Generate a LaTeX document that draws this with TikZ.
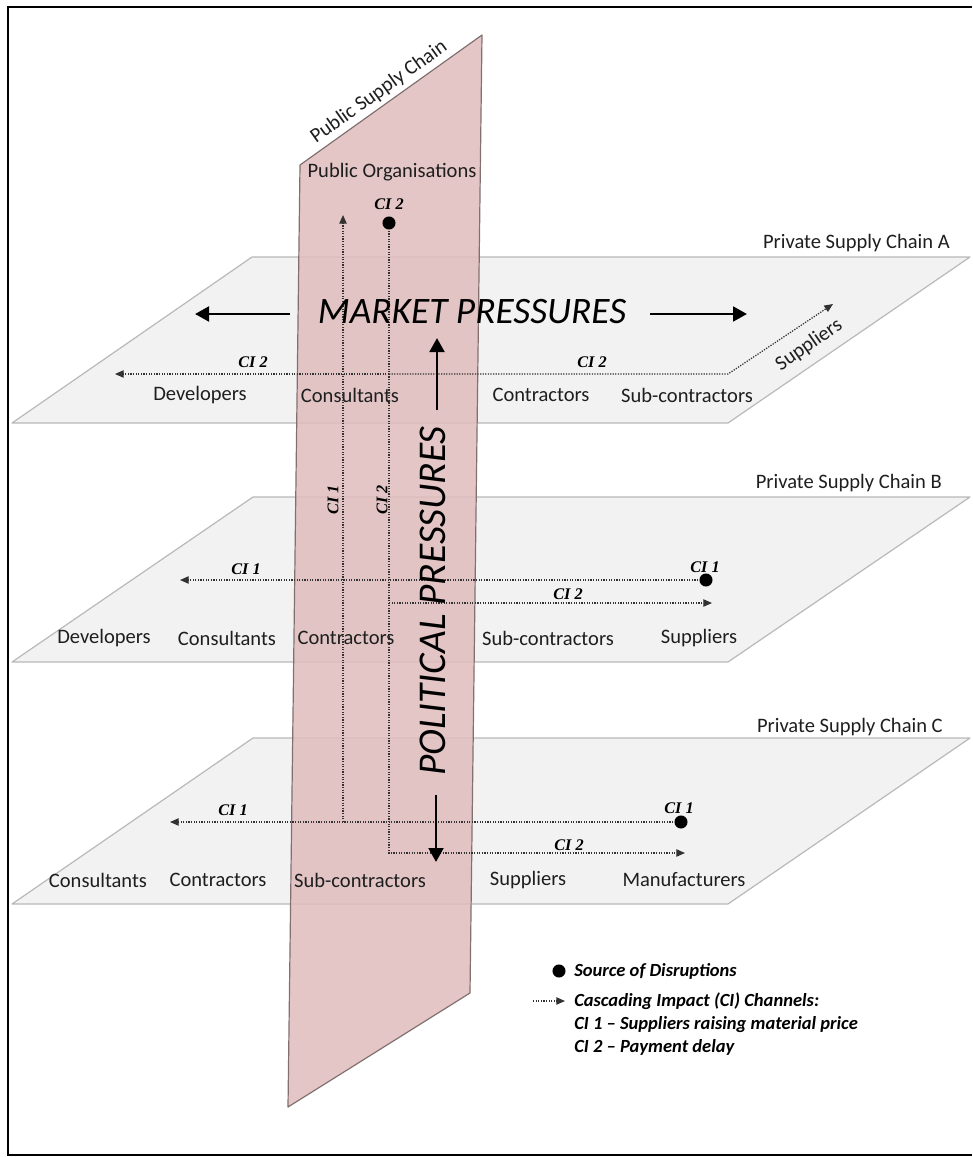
\documentclass[tikz,border=0pt]{standalone}
\usepackage{fontspec}
\setmainfont{Carlito}
\newfontfamily\cifont{Liberation Serif}
\usetikzlibrary{arrows.meta}

\definecolor{planefill}{RGB}{242,242,242}
\definecolor{planeedge}{RGB}{185,185,185}
\definecolor{pubfill}{RGB}{224,190,190}
\definecolor{pubedge}{RGB}{130,112,112}
\definecolor{labelgray}{RGB}{30,30,30}
\definecolor{flowgray}{RGB}{50,50,50}

\begin{document}
\begin{tikzpicture}[x=0.75pt,y=-0.75pt,
  plane/.style={fill=planefill,draw=planeedge,line width=0.9pt,line join=round},
  pubplane/.style={fill=pubfill,fill opacity=0.88,draw=pubedge,line width=0.9pt,line join=round},
  actor/.style={font=\fontsize{15.4}{18}\selectfont,text=labelgray,inner sep=0pt},
  big/.style={font=\itshape\fontsize{28}{32}\selectfont,text=black,inner sep=0pt},
  ci/.style={font=\cifont\bfseries\itshape\fontsize{12.2}{14}\selectfont,inner sep=0pt},
  legend/.style={font=\bfseries\itshape\fontsize{13.9}{16}\selectfont,text=black,inner sep=0pt,anchor=west},
  flow/.style={draw=flowgray,line width=0.95pt,densely dotted},
  flowto/.style={flow,-{Triangle[length=6.5pt,width=5.5pt]}},
  push/.style={draw=black,line width=2.2pt,-{Triangle[length=10.5pt,width=11pt]}},
  src/.style={circle,fill=black,inner sep=0pt,minimum size=9.8pt}]

\useasboundingbox (0,0) rectangle (972,1157);

% outer frame
\draw[line width=1.6pt] (972,7) -- (8,7) -- (8,1155) -- (972,1155);

% three private supply chain planes
\draw[plane] (12,423) -- (728,423) -- (970,257) -- (252,257) -- cycle;
\draw[plane] (12,662) -- (728,662) -- (970,497) -- (253,497) -- cycle;
\draw[plane] (12,904) -- (728,904) -- (970,738) -- (253,738) -- cycle;

% public supply chain plane
\draw[pubplane] (300,165) -- (482,35) -- (470,993) -- (288,1107) -- cycle;

% plane titles
\node[actor,rotate=35.5] (pubtitle) at (379,92) {Public Supply Chain};
\node[actor] (puborg) at (392,172) {Public Organisations};
\node[actor,anchor=east] (titleA) at (950,243) {Private Supply Chain A};
\node[actor,anchor=east] (titleB) at (942,483) {Private Supply Chain B};
\node[actor,anchor=east] (titleC) at (943,727) {Private Supply Chain C};

% chain A actors
\node[actor] (devA) at (200,395) {Developers};
\node[actor] (conA) at (350,395) {Consultants};
\node[actor] (ctrA) at (541,395) {Contractors};
\node[actor] (subA) at (687,395) {Sub-contractors};
\node[actor,rotate=34.7] (supA) at (809,345) {Suppliers};

% chain B actors
\node[actor] (devB) at (104,638) {Developers};
\node[actor] (conB) at (227,638) {Consultants};
\node[actor] (ctrB) at (346,638) {Contractors};
\node[actor] (subB) at (548,638) {Sub-contractors};
\node[actor] (supB) at (699,638) {Suppliers};

% chain C actors
\node[actor] (conC) at (98,880) {Consultants};
\node[actor] (ctrC) at (218,880) {Contractors};
\node[actor] (subC) at (360,880) {Sub-contractors};
\node[actor] (supC) at (528,880) {Suppliers};
\node[actor] (manC) at (684,880) {Manufacturers};

% cascading impact channel waypoints
\coordinate (pubTop) at (389,223);
\coordinate (upEnd) at (343,215);
\coordinate (c1C) at (343,822);
\coordinate (aJoin) at (389,374);
\coordinate (aLeft) at (115,374);
\coordinate (aBend) at (728,374);
\coordinate (aSup) at (833,304);
\coordinate (srcB) at (706,580);
\coordinate (bLeft) at (180,580);
\coordinate (bJoin) at (389,603);
\coordinate (bRight) at (712,603);
\coordinate (srcC) at (681,822);
\coordinate (cLeft) at (170,822);
\coordinate (cCorner) at (389,853);
\coordinate (cRight) at (685,853);

% CI 1 channels
\draw[flowto] (srcB) -- (bLeft);
\draw[flowto] (srcC) -- (cLeft);
\draw[flowto] (c1C) -- (upEnd);
% CI 2 channels
\draw[flowto] (pubTop) -- (cCorner) -- (cRight);
\draw[flowto] (bJoin) -- (bRight);
\draw[flowto] (aJoin) -- (aLeft);
\draw[flowto] (aJoin) -- (aBend) -- (aSup);

% sources of disruption
\node[src] (dotPub) at (pubTop) {};
\node[src] (dotB) at (srcB) {};
\node[src] (dotC) at (srcC) {};

% channel labels
\node[ci] (lPub) at (389,204) {CI 2};
\node[ci] (lA1) at (253,362) {CI 2};
\node[ci] (lA2) at (592,362) {CI 2};
\node[ci,rotate=90] (lV1) at (333,500) {CI 1};
\node[ci,rotate=90] (lV2) at (382,500) {CI 2};
\node[ci] (lB1) at (246,569) {CI 1};
\node[ci] (lBsrc) at (705,567) {CI 1};
\node[ci] (lB2) at (568,594) {CI 2};
\node[ci] (lC1) at (233,810) {CI 1};
\node[ci] (lCsrc) at (679,808) {CI 1};
\node[ci] (lC2) at (569,845) {CI 2};

% pressures
\node[big] (market) at (472,312) {MARKET PRESSURES};
\node[big,rotate=90,font=\itshape\fontsize{29.5}{32}\selectfont] (political) at (433,601) {POLITICAL PRESSURES};
\coordinate (mL0) at (290,314);
\coordinate (mL1) at (195,314);
\coordinate (mR0) at (650,314);
\coordinate (mR1) at (747,314);
\coordinate (pU0) at (437,410);
\coordinate (pU1) at (437,338);
\coordinate (pD0) at (436,795);
\coordinate (pD1) at (436,862);
\draw[push] (mL0) -- (mL1);
\draw[push] (mR0) -- (mR1);
\draw[push] (pU0) -- (pU1);
\draw[push] (pD0) -- (pD1);

% legend
\node[src] (legDot) at (559,971) {};
\node[legend] (legSrc) at (574,971) {Source of Disruptions};
\coordinate (legA0) at (533,1001);
\coordinate (legA1) at (565,1001);
\draw[flowto] (legA0) -- (legA1);
\node[legend] (legCI) at (574,1001) {Cascading Impact (CI) Channels:};
\node[legend] (legCI1) at (574,1025) {CI 1 – Suppliers raising material price};
\node[legend] (legCI2) at (574,1047) {CI 2 – Payment delay};

\end{tikzpicture}
\end{document}
